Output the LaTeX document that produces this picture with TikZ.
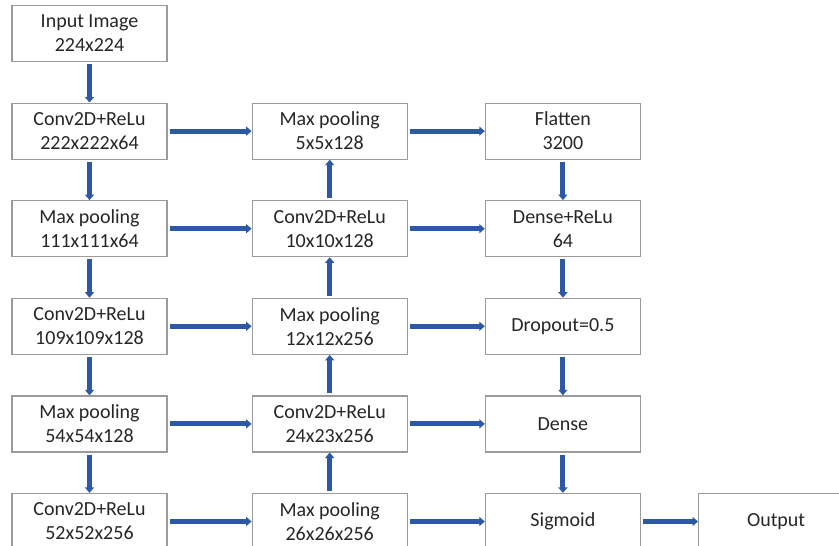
\documentclass[tikz,border=0pt]{standalone}
\usepackage[dvipsnames]{xcolor}
\usepackage{fontspec}
\setmainfont{Carlito}
\usepackage{tikz}
\usetikzlibrary{arrows.meta,positioning}
\definecolor{LinkBlue}{RGB}{45,88,163}
\definecolor{BoxGray}{RGB}{155,155,155}
\tikzset{
  every node/.style={
    font=\fontsize{20}{24}\selectfont
  },
  layer/.style={
    shape=rectangle,
    draw=BoxGray,
    line width=1.2pt,
    minimum width=155pt,
    minimum height=56pt,
    inner sep=0pt,
    align=center,
    text=black!85
  },
  flow/.style={
    draw=LinkBlue,
    line width=5pt,
    -{Triangle[length=5.5pt,width=9pt]},
    shorten <=2pt
  }
}

\begin{document}
\begin{tikzpicture}[x=1pt,y=1pt,node distance=40.4pt and 84pt]
  \clip (0,0) rectangle (839,-546);
  % first column
  \node[layer] (input) at (89.5,-33.5) {Input Image\\224x224};
  \node[layer, below=of input] (conv1) {Conv2D+ReLu\\222x222x64};
  \node[layer, below=of conv1] (pool1) {Max pooling\\111x111x64};
  \node[layer, below=of pool1] (conv2) {Conv2D+ReLu\\109x109x128};
  \node[layer, below=of conv2] (pool2) {Max pooling\\54x54x128};
  \node[layer, below=of pool2] (conv3) {Conv2D+ReLu\\52x52x256};
  % second column
  \node[layer, right=84pt of conv3] (pool3) {Max pooling\\26x26x256};
  \node[layer, above=of pool3] (conv4) {Conv2D+ReLu\\24x23x256};
  \node[layer, above=of conv4] (pool4) {Max pooling\\12x12x256};
  \node[layer, above=of pool4] (conv5) {Conv2D+ReLu\\10x10x128};
  \node[layer, above=of conv5] (pool5) {Max pooling\\5x5x128};
  % third column
  \node[layer, right=77pt of pool5] (flat) {Flatten\\3200};
  \node[layer, below=of flat] (dense1) {Dense+ReLu\\64};
  \node[layer, below=of dense1] (drop) {Dropout=0.5};
  \node[layer, below=of drop] (dense2) {Dense};
  \node[layer, below=of dense2] (sig) {Sigmoid};
  \node[layer, right=57pt of sig] (out) {Output};
  % arrows
  \draw[flow] (input) -- (conv1);
  \draw[flow] (conv1) -- (pool1);
  \draw[flow] (pool1) -- (conv2);
  \draw[flow] (conv2) -- (pool2);
  \draw[flow] (pool2) -- (conv3);
  \draw[flow] (conv1) -- (pool5);
  \draw[flow] (pool1) -- (conv5);
  \draw[flow] (conv2) -- (pool4);
  \draw[flow] (pool2) -- (conv4);
  \draw[flow] (conv3) -- (pool3);
  \draw[flow] (pool3) -- (conv4);
  \draw[flow] (conv4) -- (pool4);
  \draw[flow] (pool4) -- (conv5);
  \draw[flow] (conv5) -- (pool5);
  \draw[flow] (pool5) -- (flat);
  \draw[flow] (conv5) -- (dense1);
  \draw[flow] (pool4) -- (drop);
  \draw[flow] (conv4) -- (dense2);
  \draw[flow] (pool3) -- (sig);
  \draw[flow] (flat) -- (dense1);
  \draw[flow] (dense1) -- (drop);
  \draw[flow] (drop) -- (dense2);
  \draw[flow] (dense2) -- (sig);
  \draw[flow] (sig) -- (out);
\end{tikzpicture}
\end{document}
